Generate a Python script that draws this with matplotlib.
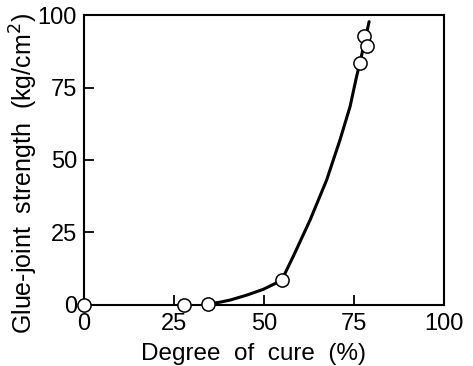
import matplotlib.pyplot as plt

# measured points (degree of cure %, strength kg/cm2)
cure_pts = [0, 27.9, 34.4, 54.9, 76.6, 77.9, 78.5]
strength_pts = [0, 0, 0.5, 8.5, 83.3, 92.8, 89.4]

# hand-drawn trend curve
cure_curve = [34.4, 37.5, 40.6, 45.2, 49.8, 54.9, 58.1, 62.8, 67.4, 71.1, 73.9, 75.7, 76.6, 77.9, 79.2]
strength_curve = [0.4, 0.9, 1.7, 3.4, 5.4, 8.5, 16.7, 29.3, 43.1, 56.9, 68.4, 78.7, 83.3, 90.5, 97.7]

ticks = [0, 25, 50, 75, 100]

fnt = ['Liberation Sans', 'DejaVu Sans']

fig = plt.figure(figsize=(4.73, 3.66), dpi=100)
ax = fig.add_axes([0.1776, 0.1667, 0.7611, 0.7923])

ax.plot(cure_curve, strength_curve, '-k', lw=2.2, zorder=2, solid_capstyle='round')
ax.plot(cure_pts, strength_pts, 'o', ms=9.5, mfc='white', mec='black', mew=1.1,
        clip_on=False, zorder=3)

ax.set_xlim(0, 100)
ax.set_ylim(0, 100)
ax.set_xticks(ticks)
ax.set_yticks(ticks)
ax.set_xticklabels([str(t) for t in ticks], family=fnt, fontsize=17)
ax.set_yticklabels([str(t) for t in ticks], family=fnt, fontsize=17)
ax.tick_params(direction='in', length=7, width=1.3)
ax.tick_params(axis='x', pad=6)
ax.tick_params(axis='y', pad=5)
for s in ax.spines.values():
    s.set_linewidth(1.5)

fig.text(0.535, 0.032, 'Degree  of  cure  (%)', ha='center', va='center',
         family=fnt, fontsize=17.5)
fig.text(0.051, 0.525, 'Glue-joint  strength  (kg/cm$^2$)', ha='center', va='center',
         rotation=90, family=fnt, fontsize=18)

fig.savefig('out.png', dpi=100)
